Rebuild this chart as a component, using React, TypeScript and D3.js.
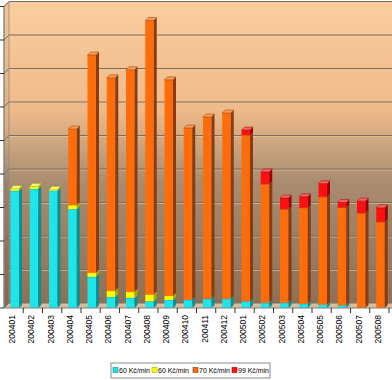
import React from 'react';
import * as d3 from 'd3';

const categories = ['200401','200402','200403','200404','200405','200406','200407','200408','200409','200410','200411','200412','200501','200502','200503','200504','200505','200506','200507','200508'];
const seriesNames = ['60 Kč/min', '60 Kč/min', '70 Kč/min', '99 Kč/min'];
const cyanValues = [3500,3550,3500,2950,930,330,300,200,240,240,270,270,200,150,150,120,100,80,0,0];
const yellowValues = [60,80,40,120,120,180,180,200,120,0,0,0,0,0,0,0,0,0,0,0];
const orangeValues = [0,0,0,2270,6500,6360,6630,8180,6450,5130,5430,5550,4960,3550,2800,2870,3220,2920,2830,2570];
const redValues = [0,0,0,0,0,0,0,0,0,0,0,0,150,360,330,330,390,150,360,420];
const yTicks = [0,1000,2000,3000,4000,5000,6000,7000,8000,9000];

const seriesColors = [
  { front: '#1ce6ea', side: '#0b8f94', top: '#6ff4f6' },
  { front: '#ffff00', side: '#a8a800', top: '#ffff80' },
  { front: '#ff6c0a', side: '#8a3b12', top: '#ff9a50' },
  { front: '#ff1010', side: '#9a0000', top: '#ff6060' },
];

export default function App() {
  const W = 392, H = 380;
  const x0 = 4, xEnd = 392;
  const baseY = 308;
  const depth = 5;
  const bd = 3;
  const y = d3.scaleLinear().domain([0, 9000]).range([baseY, 6.5]);
  const x = d3.scaleBand().domain(categories).range([x0, x0 + 19.25 * categories.length]).padding(0);
  const barW = 8.5;
  const barOff = 6.5;

  const stack = d3.stack<any>().keys(['c', 'y', 'o', 'r']);
  const rows = categories.map((c, i) => ({ cat: c, c: cyanValues[i], y: yellowValues[i], o: orangeValues[i], r: redValues[i] }));
  const stacked = stack(rows);

  const wallTop = y(9000) - depth;
  const wallBottom = baseY - depth;

  return (
    <svg width={W} height={H} style={{ position: 'absolute', left: 0, top: 0, fontFamily: 'Liberation Sans, Arial, sans-serif' }}>
      <defs>
        <linearGradient id="wallGrad" x1="0" y1="0" x2="0" y2="1">
          <stop offset="0" stopColor="#fbcd9e" />
          <stop offset="0.36" stopColor="#efba89" />
          <stop offset="0.48" stopColor="#c9a47e" />
          <stop offset="0.6" stopColor="#a98c6f" />
          <stop offset="1" stopColor="#8c7156" />
        </linearGradient>
        <linearGradient id="sideGrad" x1="0" y1="0" x2="0" y2="1">
          <stop offset="0" stopColor="#f3c495" />
          <stop offset="0.4" stopColor="#e0b083" />
          <stop offset="0.6" stopColor="#9d8266" />
          <stop offset="1" stopColor="#80664d" />
        </linearGradient>
      </defs>
      <rect x={0} y={0} width={W} height={H} fill="#ffffff" />
      <rect x={x0 + depth} y={wallTop} width={W - x0 - depth} height={wallBottom - wallTop} fill="url(#wallGrad)" />
      <polygon points={`${x0},${y(9000)} ${x0 + depth},${wallTop} ${x0 + depth},${wallBottom} ${x0},${baseY}`} fill="url(#sideGrad)" stroke="#8a8a8a" strokeWidth={0.8} />
      <polygon points={`${x0},${baseY} ${xEnd},${baseY} ${xEnd + depth},${wallBottom} ${x0 + depth},${wallBottom}`} fill="#d6bc98" />
      {yTicks.map((t) => (
        <g key={t}>
          <line x1={x0 + depth} x2={W} y1={y(t) - depth + 1} y2={y(t) - depth + 1} stroke="#e6cfae" strokeWidth={0.8} opacity={0.7} />
          <line x1={x0 + depth} x2={W} y1={y(t) - depth} y2={y(t) - depth} stroke="#7d6d5e" strokeWidth={1} />
          <line x1={x0} x2={x0 + depth} y1={y(t)} y2={y(t) - depth} stroke="#7d6d5e" strokeWidth={1} />
        </g>
      ))}
      <line x1={x0} x2={x0} y1={y(9000)} y2={baseY} stroke="#808080" strokeWidth={1} />
      {yTicks.map((t) => (
        <line key={'t' + t} x1={x0 - 4} x2={x0} y1={y(t)} y2={y(t)} stroke="#000" strokeWidth={0.8} />
      ))}
      {stacked.map((s, si) => (
        <g key={si}>
          {s.map((d, i) => {
            if (d[1] - d[0] <= 0) return null;
            const xl = (x(categories[i]) as number) + barOff;
            const yt = y(d[1]);
            const yb = y(d[0]);
            const col = seriesColors[si];
            return (
              <g key={i}>
                <rect x={xl} y={yt} width={barW} height={yb - yt} fill={col.front} />
                <polygon points={`${xl + barW},${yt} ${xl + barW + bd},${yt - bd} ${xl + barW + bd},${yb - bd} ${xl + barW},${yb}`} fill={col.side} />
                <polygon points={`${xl},${yt} ${xl + bd},${yt - bd} ${xl + barW + bd},${yt - bd} ${xl + barW},${yt}`} fill={col.top} stroke={col.side} strokeWidth={0.5} />
              </g>
            );
          })}
        </g>
      ))}
      <line x1={x0} x2={W} y1={baseY} y2={baseY} stroke="#808080" strokeWidth={1} />
      {categories.map((c) => (
        <line key={'xt' + c} x1={(x(c) as number) + x.bandwidth()} x2={(x(c) as number) + x.bandwidth()} y1={baseY} y2={baseY + 5} stroke="#000" strokeWidth={0.8} />
      ))}
      {categories.map((c) => (
        <text key={'l' + c} transform={`translate(${(x(c) as number) + x.bandwidth() / 2 - 1.5},315) rotate(-90)`} textAnchor="end" dy="0.35em" fontSize={8.5} fill="#000">{c}</text>
      ))}
      <rect x={111} y={363} width={159} height={15} fill="#fff" stroke="#8c8c8c" strokeWidth={1} />
      {seriesNames.map((n, i) => {
        const lx = [113, 152, 193, 232][i];
        return (
          <g key={'lg' + i}>
            <rect x={lx} y={367.5} width={5} height={5} fill={seriesColors[i].front} stroke={seriesColors[i].side} strokeWidth={0.6} />
            <text x={lx + 6} y={370.5} dy="0.35em" fontSize={7.4} textLength={31} lengthAdjust="spacingAndGlyphs" fill="#000">{n}</text>
          </g>
        );
      })}
    </svg>
  );
}
